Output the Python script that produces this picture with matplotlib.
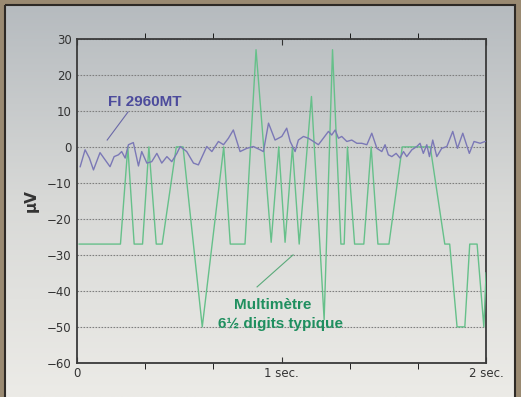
import numpy as np
import matplotlib.pyplot as plt
from matplotlib.colors import LinearSegmentedColormap
from matplotlib.patches import Rectangle

# Multimetre 6 1/2 digits (green) - breakpoints
multi_t = [0.01, 0.212, 0.248, 0.279, 0.320, 0.351, 0.387, 0.416, 0.485, 0.518,
           0.612, 0.717, 0.749, 0.821, 0.875, 0.949, 0.986, 1.017, 1.053, 1.086,
           1.146, 1.208, 1.249, 1.290, 1.306, 1.322, 1.357, 1.402, 1.438, 1.471,
           1.525, 1.590, 1.727, 1.798, 1.822, 1.858, 1.896, 1.920, 1.956, 1.989, 2.0]
multi_v = [-27, -27, 0, -27, -27, 0, -27, -27, 0, 0,
           -50, 0, -27, -27, 27, -26.5, 0, -26.5, 0, -27,
           14, -48, 27, -27, -27, 0, -27, -27, 0, -27,
           -27, 0, 0, -27, -27, -50, -50, -27, -27, -50, -35]

# FI 2960MT (purple)
fi_t = [0.015, 0.039, 0.060, 0.080, 0.112, 0.137, 0.161, 0.181, 0.202, 0.218,
        0.235, 0.251, 0.275, 0.300, 0.316, 0.341, 0.365, 0.390, 0.414, 0.439,
        0.463, 0.488, 0.504, 0.536, 0.569, 0.593, 0.634, 0.659, 0.691, 0.716,
        0.740, 0.764, 0.797, 0.830, 0.862, 0.895, 0.911, 0.936, 0.968, 1.001,
        1.025, 1.042, 1.066, 1.082, 1.107, 1.131, 1.156, 1.180, 1.204, 1.229,
        1.245, 1.262, 1.278, 1.294, 1.319, 1.343, 1.368, 1.392, 1.417, 1.441,
        1.466, 1.490, 1.506, 1.522, 1.539, 1.560, 1.579, 1.596, 1.612, 1.637,
        1.661, 1.677, 1.693, 1.710, 1.723, 1.739, 1.759, 1.783, 1.808, 1.837,
        1.860, 1.886, 1.918, 1.941, 1.971, 1.995]
fi_v = [-5.5, -0.8, -3.1, -6.4, -1.6, -3.6, -5.5, -2.7, -2.2, -1.3,
        -3.1, 0.6, 1.2, -5.3, -1.3, -4.5, -4.1, -1.8, -4.5, -2.7,
        -4.1, -1.8, 0.1, -1.3, -4.5, -5.0, 0.1, -1.3, 1.5, 0.6,
        2.4, 4.7, -1.3, -0.4, 0.1, -0.8, -1.3, 6.6, 1.9, 2.9,
        5.2, 1.5, -1.3, 1.9, 2.9, 2.4, 1.5, 0.6, 2.4, 4.3,
        3.3, 4.7, 2.4, 2.9, 1.5, 1.9, 1.0, 1.0, 0.6, 3.8,
        -0.4, -1.3, 0.6, -2.2, -2.7, -1.8, -3.1, -1.3, -2.7, -0.8,
        0.1, 1.0, -1.8, 0.6, -2.7, 1.9, -2.7, -0.4, 0.1, 4.3,
        -0.4, 3.8, -1.8, 1.5, 1.0, 1.5]

yticks = [-60, -50, -40, -30, -20, -10, 0, 10, 20, 30]

fig = plt.figure(figsize=(5.21, 3.97), dpi=100, facecolor='#9a8a72')

# grey gradient panel behind the chart
bg = fig.add_axes([0, 0, 1, 1])
bg.set_xlim(0, 521)
bg.set_ylim(397, 0)
bg.axis('off')
cmap = LinearSegmentedColormap.from_list('panel', ['#b6bbbf', '#d8d9d7', '#ecebe7'])
grad = np.linspace(0, 1, 256).reshape(-1, 1)
bg.imshow(grad, cmap=cmap, aspect='auto', extent=[6, 515, 397, 6])
bg.add_patch(Rectangle((5, 5), 510, 400, fill=False, edgecolor='#2e2a26', lw=1.5))

ax = fig.add_axes([0.148, 0.086, 0.785, 0.816])
ax.set_facecolor('none')
ax.plot(multi_t, multi_v, color='#66c08a', lw=1.0, zorder=3)
ax.plot(fi_t, fi_v, color='#7b78b6', lw=1.0, zorder=4)

ax.set_xlim(0, 2)
ax.set_ylim(-60, 30)
ax.set_yticks(yticks)
ax.set_xticks([0, 1, 2])
ax.set_xticklabels(['0', '1 sec.', '2 sec.'])
ax.set_xticks(np.arange(0, 2.01, 1 / 3), minor=True)
ax.tick_params(axis='both', labelsize=8.5, colors='#333333', direction='in')
ax.tick_params(axis='y', length=0, pad=4)
ax.tick_params(axis='x', which='both', length=4, top=True, pad=3)
ax.grid(axis='y', color='#7f7f7f', ls=(0, (1.5, 1.2)), lw=0.8)
for s in ax.spines.values():
    s.set_color('#3a3a3a')
    s.set_linewidth(1.3)

ax.set_ylabel('µV', fontsize=11, fontweight='bold', color='#333333', labelpad=6)

ax.text(0.33, 12.5, 'FI 2960MT', color='#4c4b9c', fontsize=11, fontweight='bold',
        family='Liberation Sans', ha='center', va='center')
ax.plot([0.249, 0.147], [9.7, 1.9], color='#6a68a8', lw=0.8)

ax.text(0.955, -44.0, 'Multimètre', color='#1f8f5f', fontsize=11, fontweight='bold',
        family='Liberation Sans', ha='center', va='center')
ax.text(0.995, -49.3, '6½ digits typique', color='#1f8f5f', fontsize=11, fontweight='bold',
        family='Liberation Sans', ha='center', va='center')
ax.plot([0.88, 1.056], [-38.9, -30.0], color='#5aaa7a', lw=0.8)

plt.savefig('out.png', dpi=100, facecolor=fig.get_facecolor())
